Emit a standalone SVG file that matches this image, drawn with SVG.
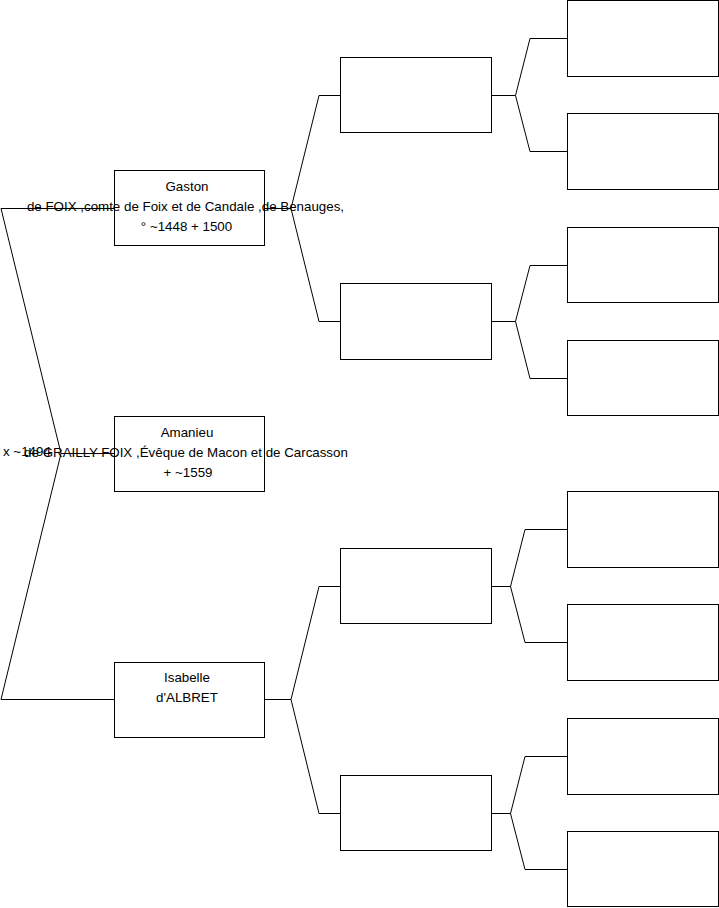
<svg xmlns="http://www.w3.org/2000/svg" width="719" height="908" viewBox="0 0 719 908">
<style>
.box{fill:#fff;stroke:#000;stroke-width:1}
.con{fill:none;stroke:#000;stroke-width:1}
text{font-family:"Liberation Sans",Arial,sans-serif;font-size:13.33px;fill:#000}
.c{text-anchor:middle}
</style>
<rect width="719" height="908" fill="#fff"/>
<g id="connectors">
<path class="con" d="M114,208.5 H1 L61,453.5 L1,699.5 H114 M61,453.5 H114"/>
<path class="con" d="M265,208.5 H291 L319,95.5 H341 M291,208.5 L319,321.5 H341"/>
<path class="con" d="M265,699.5 H291 L319,586.5 H341 M291,699.5 L319,813.5 H341"/>
<path class="con" d="M491,95.5 H515.5 L530,38.5 H567 M515.5,95.5 L530,151.5 H567"/>
<path class="con" d="M491,321.5 H515.5 L530,265.5 H567 M515.5,321.5 L530,378.5 H567"/>
<path class="con" d="M491,586.5 H510.5 L525,529.5 H567 M510.5,586.5 L525,642.5 H567"/>
<path class="con" d="M491,813.5 H510.5 L525,756.5 H567 M510.5,813.5 L525,869.5 H567"/>
<text x="3" y="456">x ~1494</text>
</g>
<g id="gaston">
<rect class="box" x="114.5" y="170.5" width="150" height="75"/>
<text class="c" x="187" y="191">Gaston</text>
<text class="c" x="185.5" y="211">de FOIX ,comte de Foix et de Candale ,de Benauges,</text>
<text class="c" x="186.5" y="231">° ~1448 + 1500</text>
</g>
<g id="amanieu">
<rect class="box" x="114.5" y="416.5" width="150" height="75"/>
<text class="c" x="187" y="437">Amanieu</text>
<text class="c" x="186" y="457">de GRAILLY-FOIX ,Évêque de Macon et de Carcasson</text>
<text class="c" x="188" y="477">+ ~1559</text>
</g>
<g id="isabelle">
<rect class="box" x="114.5" y="662.5" width="150" height="75"/>
<text class="c" x="187" y="682">Isabelle</text>
<text class="c" x="187" y="702">d'ALBRET</text>
</g>
<g id="p1"><rect class="box" x="340.5" y="57.5" width="151" height="75"/></g>
<g id="p2"><rect class="box" x="340.5" y="283.5" width="151" height="76"/></g>
<g id="p3"><rect class="box" x="340.5" y="548.5" width="151" height="75"/></g>
<g id="p4"><rect class="box" x="340.5" y="775.5" width="151" height="75"/></g>
<g id="g1"><rect class="box" x="567.5" y="0.5" width="151" height="76"/></g>
<g id="g2"><rect class="box" x="567.5" y="113.5" width="151" height="76"/></g>
<g id="g3"><rect class="box" x="567.5" y="227.5" width="151" height="75"/></g>
<g id="g4"><rect class="box" x="567.5" y="340.5" width="151" height="75"/></g>
<g id="g5"><rect class="box" x="567.5" y="491.5" width="151" height="76"/></g>
<g id="g6"><rect class="box" x="567.5" y="604.5" width="151" height="76"/></g>
<g id="g7"><rect class="box" x="567.5" y="718.5" width="151" height="76"/></g>
<g id="g8"><rect class="box" x="567.5" y="831.5" width="151" height="75"/></g>
</svg>
